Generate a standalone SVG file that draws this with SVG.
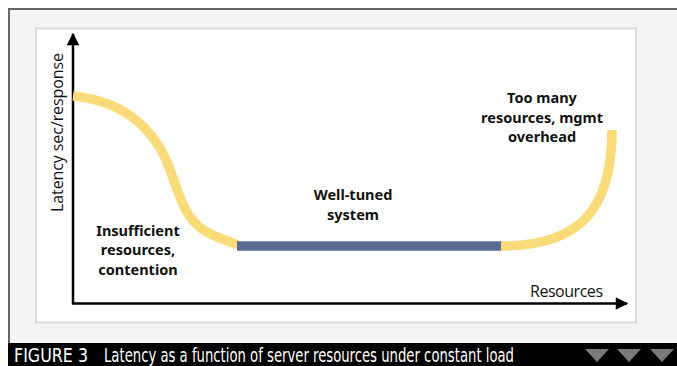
<svg xmlns="http://www.w3.org/2000/svg" width="677" height="366" viewBox="0 0 677 366">
<defs>
<style>
.lbl{font-family:"Noto Sans","Open Sans","DejaVu Sans",sans-serif;font-weight:bold;font-size:14.5px;fill:#111;text-anchor:middle}
.ax{font-family:"Open Sans","Noto Sans",sans-serif;font-size:16px;fill:#111}
.cap{font-family:"DejaVu Sans Condensed","DejaVu Sans",sans-serif;font-size:19px;fill:#fff}
.yel{fill:none;stroke:#f9dc79;stroke-width:9.5}
.axis{stroke:#000;stroke-width:2.5;fill:none}
</style>
<marker id="arr" viewBox="0 0 10 10" refX="9" refY="5" markerWidth="5.5" markerHeight="5" orient="auto" markerUnits="strokeWidth">
<path d="M0,0 L10,5 L0,10 z" fill="#000"/>
</marker>
</defs>
<rect x="0" y="0" width="677" height="366" fill="#fff"/>
<rect x="9" y="9" width="680" height="340" fill="#f5f5f5" stroke="#666" stroke-width="2"/>
<rect x="36" y="28.5" width="600" height="294" fill="#fff" stroke="#dcdcdc" stroke-width="2"/>
<rect x="8" y="343" width="669" height="23" fill="#000"/>
<text class="cap" x="14" y="361.5" textLength="74" lengthAdjust="spacingAndGlyphs">FIGURE 3</text>
<text class="cap" x="104" y="361.5" textLength="410" lengthAdjust="spacingAndGlyphs">Latency as a function of server resources under constant load</text>
<g fill="#7a7a7a">
<path d="M585,349 L609,349 L597,362 z"/>
<path d="M617,349 L641,349 L629,362 z"/>
<path d="M650,349 L674,349 L662,362 z"/>
</g>
<g id="connectors">
<line class="axis" x1="73" y1="304" x2="73" y2="34" marker-end="url(#arr)"/>
<line class="axis" x1="72" y1="303.5" x2="627" y2="303.5" marker-end="url(#arr)"/>
</g>
<g id="curve">
<path class="yel" d="M73,96 C125,101 155,130 169,167 C180,196 184,218 205,231 C215,237 228,241 238,245"/>
<line x1="237" y1="246" x2="501" y2="246" stroke="#5b6b91" stroke-width="9.5"/>
<path class="yel" d="M501,246 C578,246 612,212 612,130"/>
</g>
<g id="axis-labels">
<text class="ax" transform="translate(63,212) rotate(-90)" textLength="159">Latency sec/response</text>
<text class="ax" x="530" y="297" textLength="73">Resources</text>
</g>
<g id="node-insufficient">
<text class="lbl" x="138" y="236">Insufficient</text>
<text class="lbl" x="138" y="255">resources,</text>
<text class="lbl" x="138" y="275">contention</text>
</g>
<g id="node-welltuned">
<text class="lbl" x="353" y="200">Well-tuned</text>
<text class="lbl" x="353" y="220">system</text>
</g>
<g id="node-toomany">
<text class="lbl" x="542" y="103">Too many</text>
<text class="lbl" x="542" y="123">resources, mgmt</text>
<text class="lbl" x="542" y="142">overhead</text>
</g>
</svg>
